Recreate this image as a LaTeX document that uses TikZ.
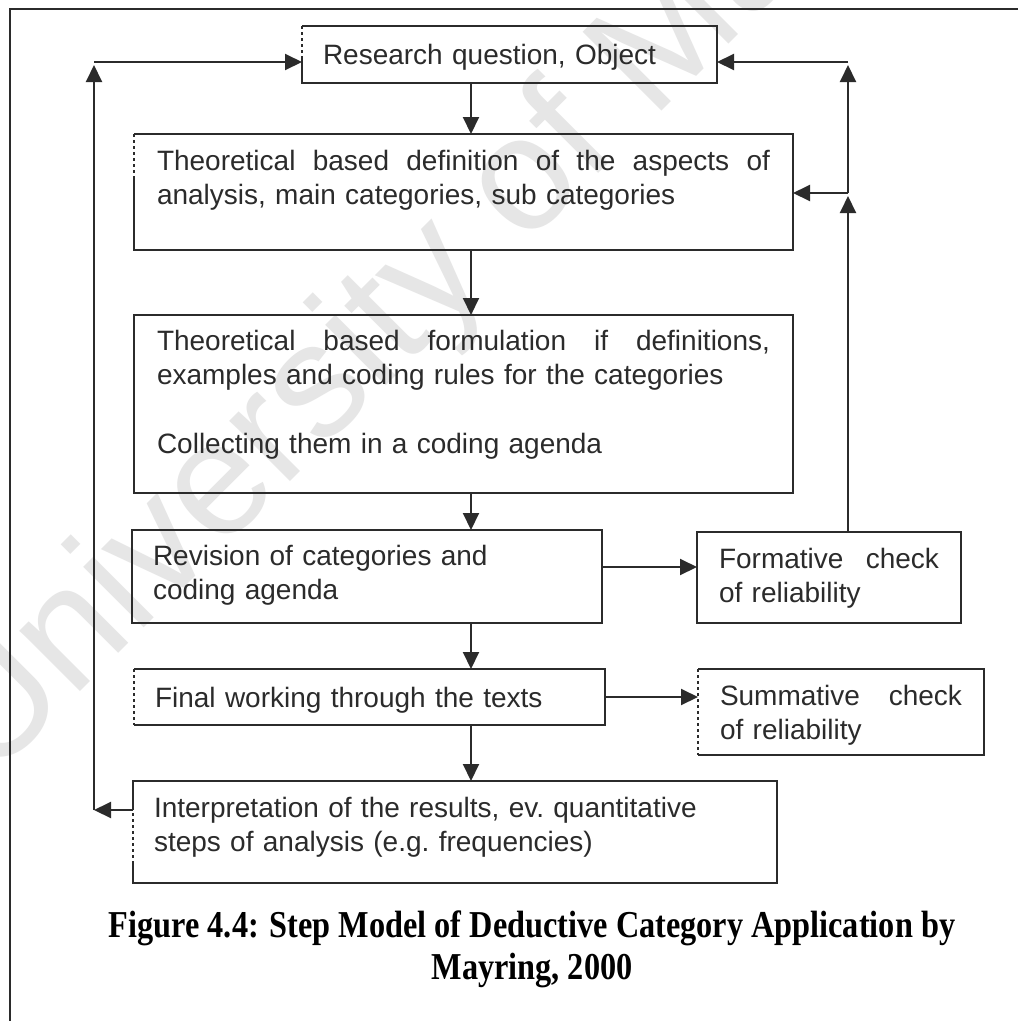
\documentclass[tikz,border=0pt]{standalone}
\usepackage{fontspec}
\setmainfont{Liberation Sans}
\newfontfamily\captionserif[FakeStretch=0.85]{Liberation Serif}
\usetikzlibrary{arrows.meta}

\definecolor{ink}{HTML}{2B2B2B}
\definecolor{wmgray}{HTML}{E6E6E6}

% a line spread to the given width (interword spaces stretch)
\newcommand\spreadline[2]{\makebox[#1][s]{\spaceskip=.3em plus 1fil\relax #2}}

\begin{document}
\begin{tikzpicture}[x=1pt,y=-1pt,
  boxline/.style={draw=ink, line width=2.2pt, line join=miter},
  stepbox/.style={boxline, anchor=north west, outer sep=0pt, inner ysep=0pt,
    align=left, text=ink, font=\fontsize{28}{34}\selectfont},
  openbox/.style={stepbox, draw=none},
  flow/.style={draw=ink, line width=2pt, -{Triangle[length=17pt,width=16pt]}},
  dots/.style={draw=ink, line width=2pt, dash pattern=on 3pt off 3pt},
  captext/.style={anchor=base, inner sep=0pt,
    font=\captionserif\bfseries\fontsize{38}{42}\selectfont},
]
\useasboundingbox (0,0) rectangle (1018,1021);
\clip (0,0) rectangle (1018,1021);
\fill[white] (0,0) rectangle (1018,1021);

% watermark
\node[font=\fontsize{162}{170}\selectfont, text=wmgray, rotate=45,
      anchor=base west, inner sep=0pt] (wm) at (-10,782) {University of Malaya};

% page frame
\draw[draw=ink, line width=1.6pt] (10,1021) -- (10,9) -- (1018,9);

% helper coordinates
\coordinate (cx) at (471,0);
\coordinate (lx) at (94,0);
\coordinate (rx) at (848,0);
\coordinate (topy) at (0,62);
\coordinate (toptip) at (0,65);
\coordinate (midy) at (0,193);
\coordinate (midtip) at (0,196);
\coordinate (y4) at (0,567);
\coordinate (reta) at (0,810);
\coordinate (y58) at (0,58);
\coordinate (y177) at (0,177);
\coordinate (y807) at (0,807);
\coordinate (y863) at (0,863);

% steps
\node[openbox, text width=373pt, inner xsep=21pt, text height=38pt, text depth=19pt]
  (b1) at (302,26) {Research question, Object};

\node[openbox, text width=613pt, inner xsep=23pt, text height=36pt, text depth=80pt]
  (b2) at (134,134)
  {\spreadline{613pt}{Theoretical based definition of the aspects of}\\
   analysis, main categories, sub categories};

\node[stepbox, text width=613pt, inner xsep=23pt, text height=35pt, text depth=143pt]
  (b3) at (134,315)
  {\spreadline{613pt}{Theoretical based formulation if definitions,}\\
   examples and coding rules for the categories\\[35pt]
   Collecting them in a coding agenda};

\node[stepbox, text width=428pt, inner xsep=21pt, text height=35pt, text depth=58pt]
  (b4) at (132,530) {Revision of categories and\\coding agenda};

\node[stepbox, text width=220pt, inner xsep=22pt, text height=36pt, text depth=55pt]
  (f) at (697,532) {\spreadline{220pt}{Formative check}\\of reliability};

\node[openbox, text width=429pt, inner xsep=21pt, text height=38pt, text depth=18pt]
  (b5) at (134,669) {Final working through the texts};

\node[openbox, text width=242pt, inner xsep=22pt, text height=36pt, text depth=50pt]
  (s) at (698,669) {\spreadline{242pt}{Summative check}\\of reliability};

\node[openbox, text width=602pt, inner xsep=21pt, text height=36pt, text depth=66pt]
  (b6) at (133,781)
  {Interpretation of the results, ev.\ quantitative\\
   steps of analysis (e.g.\ frequencies)};

% borders of the boxes whose left side is partly dotted
\draw[boxline] (b1.west |- y58) -- (b1.south west) -- (b1.south east)
  -- (b1.north east) -- (b1.north west);
\draw[dots] (b1.north west) -- (b1.west |- y58);

\draw[boxline] (b2.west |- y177) -- (b2.south west) -- (b2.south east)
  -- (b2.north east) -- (b2.north west);
\draw[dots] (b2.north west) -- (b2.west |- y177);

\draw[boxline] (b5.south west) -- (b5.south east) -- (b5.north east) -- (b5.north west);
\draw[dots] (b5.north west) -- (b5.south west);

\draw[boxline] (s.south west) -- (s.south east) -- (s.north east) -- (s.north west);
\draw[dots] (s.north west) -- (s.south west);

\draw[boxline] (b6.west |- y807) -- (b6.north west) -- (b6.north east)
  -- (b6.south east) -- (b6.south west) -- (b6.west |- y863);
\draw[dots] (b6.west |- y807) -- (b6.west |- y863);

% main sequence
\draw[flow] (b1.south -| cx) -- (b2.north -| cx);
\draw[flow] (b2.south -| cx) -- (b3.north -| cx);
\draw[flow] (b3.south -| cx) -- (b4.north -| cx);
\draw[flow] (b4.south -| cx) -- (b5.north -| cx);
\draw[flow] (b5.south -| cx) -- (b6.north -| cx);

% side checks
\draw[flow] (b4.east |- y4) -- (f.west |- y4);
\draw[flow] (b5.east) -- (s.west |- b5.east);

% feedback from the formative check
\draw[flow] (f.north -| rx) -- (rx |- midtip);
\draw[flow] (rx |- midy) -- (b2.east |- midy);
\draw[flow] (rx |- midy) -- (rx |- toptip);
\draw[flow] (rx |- topy) -- (b1.east |- topy);

% loop back from the interpretation
\draw[flow] (b6.west |- reta) -- (lx |- reta);
\draw[flow] (lx |- reta) -- (lx |- toptip);
\draw[flow] (lx |- topy) -- (b1.west |- topy);

% caption
\node[captext] (cap1) at (532,937)
  {Figure 4.4: Step Model of Deductive Category Application by};
\node[captext] (cap2) at (532,979) {Mayring, 2000};
\end{tikzpicture}
\end{document}
